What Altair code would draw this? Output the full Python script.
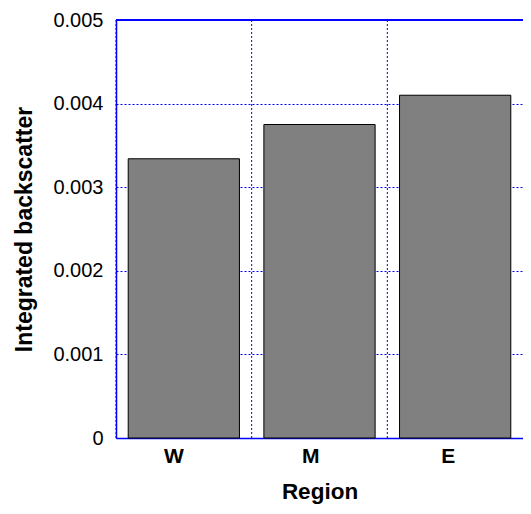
import altair as alt
import pandas as pd

regions = ["W", "M", "E"]
backscatter = [0.00334, 0.00375, 0.0041]
y_ticks = [0, 0.001, 0.002, 0.003, 0.004, 0.005]

df = pd.DataFrame({"region": regions, "value": backscatter})

FONT = "Liberation Sans"
BLUE = "#0000ff"

x_enc = alt.X(
    "region:N",
    sort=regions,
    scale=alt.Scale(paddingInner=0, paddingOuter=0),
    axis=alt.Axis(
        title="Region",
        labelAngle=0,
        labelFont=FONT,
        labelFontSize=21,
        labelFontWeight="bold",
        labelColor="black",
        labelPadding=18,
        titleFont=FONT,
        titleFontSize=22.5,
        titleFontWeight="bold",
        titleColor="black",
        titlePadding=14,
        ticks=False,
        domain=True,
        domainColor=BLUE,
        domainWidth=1.5,
        grid=False,
    ),
)

y_scale = alt.Scale(domain=[y_ticks[0], y_ticks[-1]], nice=False)

y_enc = alt.Y(
    "value:Q",
    scale=y_scale,
    axis=alt.Axis(
        title="Integrated backscatter",
        values=y_ticks,
        format="~g",
        labelFont=FONT,
        labelFontSize=20,
        labelColor="black",
        labelPadding=13,
        titleFont=FONT,
        titleFontSize=23,
        titleFontWeight="bold",
        titleColor="black",
        titlePadding=16,
        ticks=False,
        domain=True,
        domainColor=BLUE,
        domainWidth=1.5,
        grid=True,
        gridColor=BLUE,
        gridDash=[2, 2],
        gridWidth=1,
    ),
)

grid_x = alt.Chart(df).mark_rule(
    color=BLUE, strokeDash=[2, 2], strokeWidth=1
).encode(
    x=alt.X("region:N", sort=regions, bandPosition=0),
)

top_border = alt.Chart(df).mark_rule(
    color=BLUE, strokeWidth=1.5
).encode(
    y=alt.datum(y_ticks[-1]),
)

bars = alt.Chart(df).mark_bar(
    color="#808080", stroke="black", strokeWidth=1,
    width=alt.RelativeBandSize(0.82),
).encode(x=x_enc, y=y_enc)

chart = alt.layer(grid_x, top_border, bars).properties(
    width=407, height=418,
    autosize=alt.AutoSizeParams(type="none"),
    padding={"left": 108, "top": 12, "right": 0, "bottom": 68},
).configure_view(
    stroke=BLUE, strokeWidth=2
).configure(
    background="white"
)

chart.save("out.html", embed_options={"renderer": "svg", "actions": False})
